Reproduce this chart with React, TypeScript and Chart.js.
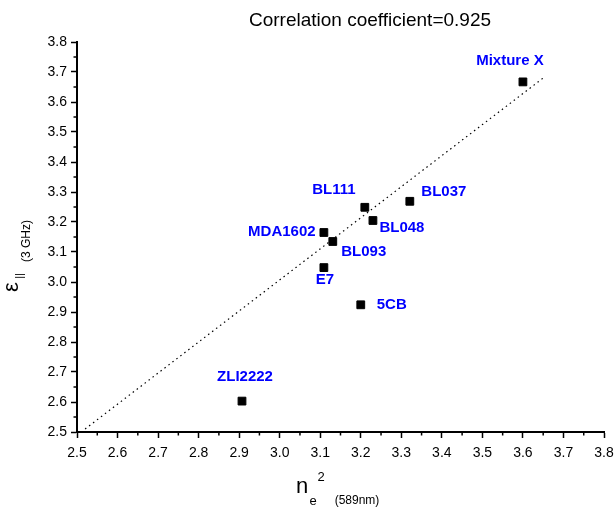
import React, { useEffect, useRef } from "react";
import { Chart, registerables } from "chart.js";

Chart.register(...registerables);

const names = ["Mixture X", "BL037", "BL111", "BL048", "MDA1602", "BL093", "E7", "5CB", "ZLI2222"];
const xValues = [3.6, 3.321, 3.21, 3.23, 3.109, 3.131, 3.109, 3.2, 2.907];
const yValues = [3.667, 3.269, 3.249, 3.205, 3.165, 3.135, 3.048, 2.924, 2.603];
// label offsets in px relative to the point (styling)
const labelDx = [-13, 34, -31, 29, -42, 31, 1, 31, 3];
const labelDy = [-21, -9, -17, 7, -1, 10, 12, 0, -24];
const fitX = [2.52, 3.65];
const fitY = [2.51, 3.68];
const titleText = "Correlation coefficient=0.925";
const axisMin = 2.5;
const axisMax = 3.8;

const FONT = "Arial, 'Liberation Sans', Helvetica, sans-serif";

const decorPlugin = {
  id: "decor",
  afterDraw(chart: any) {
    const ctx = chart.ctx;
    const xs = chart.scales.x;
    const ys = chart.scales.y;
    const area = chart.chartArea;
    ctx.save();
    // minor ticks
    ctx.strokeStyle = "#000";
    ctx.lineWidth = 1.5;
    for (let i = 0; i < 13; i++) {
      const v = axisMin + 0.05 + i * 0.1;
      const px = xs.getPixelForValue(v);
      ctx.beginPath();
      ctx.moveTo(px, area.bottom);
      ctx.lineTo(px, area.bottom + 3.5);
      ctx.stroke();
      const py = ys.getPixelForValue(v);
      ctx.beginPath();
      ctx.moveTo(area.left, py);
      ctx.lineTo(area.left - 3.5, py);
      ctx.stroke();
    }
    // point labels
    ctx.fillStyle = "#0000ff";
    ctx.font = `bold 15px ${FONT}`;
    ctx.textAlign = "center";
    ctx.textBaseline = "middle";
    for (let i = 0; i < names.length; i++) {
      const px = xs.getPixelForValue(xValues[i]);
      const py = ys.getPixelForValue(yValues[i]);
      ctx.fillText(names[i], px + labelDx[i], py + labelDy[i]);
    }
    // title
    ctx.fillStyle = "#000";
    ctx.font = `19px ${FONT}`;
    ctx.fillText(titleText, 370, 21);
    // x axis title
    ctx.font = `22px ${FONT}`;
    ctx.fillText("n", 302, 487);
    ctx.font = `13px ${FONT}`;
    ctx.fillText("e", 313, 501);
    ctx.fillText("2", 321, 477);
    ctx.font = `12px ${FONT}`;
    ctx.fillText("(589nm)", 357, 501);
    // y axis title (rotated)
    ctx.save();
    ctx.translate(12, 287);
    ctx.rotate(-Math.PI / 2);
    ctx.font = `22px ${FONT}`;
    ctx.fillText("ε", 0, 0);
    ctx.restore();
    ctx.save();
    ctx.translate(20, 276);
    ctx.rotate(-Math.PI / 2);
    ctx.font = `11px ${FONT}`;
    ctx.fillText("||", 0, 0);
    ctx.restore();
    ctx.save();
    ctx.translate(27, 241);
    ctx.rotate(-Math.PI / 2);
    ctx.font = `12px ${FONT}`;
    ctx.fillText("(3 GHz)", 0, 0);
    ctx.restore();
    ctx.restore();
  },
};

export default function App() {
  const ref = useRef<HTMLCanvasElement | null>(null);
  useEffect(() => {
    if (!ref.current) return;
    const axisCommon = (pos: string, pad: number) => ({
      type: "linear",
      position: pos,
      min: axisMin,
      max: axisMax,
      border: { display: true, color: "#000", width: 2 },
      grid: {
        display: true,
        drawOnChartArea: false,
        drawTicks: true,
        tickLength: 6,
        tickWidth: 1.5,
        tickColor: "#000",
      },
      ticks: {
        stepSize: 0.1,
        color: "#000",
        font: { size: 14, family: FONT },
        padding: pad,
        maxRotation: 0,
        autoSkip: false,
        callback: (v: any) => Number(v).toFixed(1),
      },
    });
    const chart = new Chart(ref.current, {
      type: "scatter",
      data: {
        datasets: [
          {
            label: "samples",
            data: xValues.map((x, i) => ({ x, y: yValues[i] })),
            pointStyle: "rect",
            pointRadius: 5.5,
            pointBackgroundColor: "#000",
            pointBorderColor: "#000",
            pointBorderWidth: 1,
          },
          {
            label: "fit",
            data: fitX.map((x, i) => ({ x, y: fitY[i] })),
            showLine: true,
            borderColor: "#000",
            borderWidth: 1.2,
            borderDash: [1.5, 3.5],
            pointRadius: 0,
            fill: false,
          },
        ],
      },
      options: {
        responsive: false,
        animation: false,
        layout: { padding: { left: 0, right: 11, top: 42, bottom: 0 } },
        plugins: { legend: { display: false }, tooltip: { enabled: false }, title: { display: false } },
        scales: {
          x: {
            ...axisCommon("bottom", 7),
            afterFit: (s: any) => {
              s.height = 75;
              s.paddingLeft = 0;
              s.paddingRight = 0;
            },
          },
          y: {
            ...axisCommon("left", 4),
            afterFit: (s: any) => {
              s.width = 77;
              s.paddingTop = 0;
              s.paddingBottom = 0;
            },
          },
        } as any,
      },
      plugins: [decorPlugin],
    } as any);
    return () => chart.destroy();
  }, []);
  return (
    <div style={{ position: "absolute", left: 0, top: 0, width: 615, height: 507, background: "#fff" }}>
      <canvas ref={ref} width={615} height={507} />
    </div>
  );
}
